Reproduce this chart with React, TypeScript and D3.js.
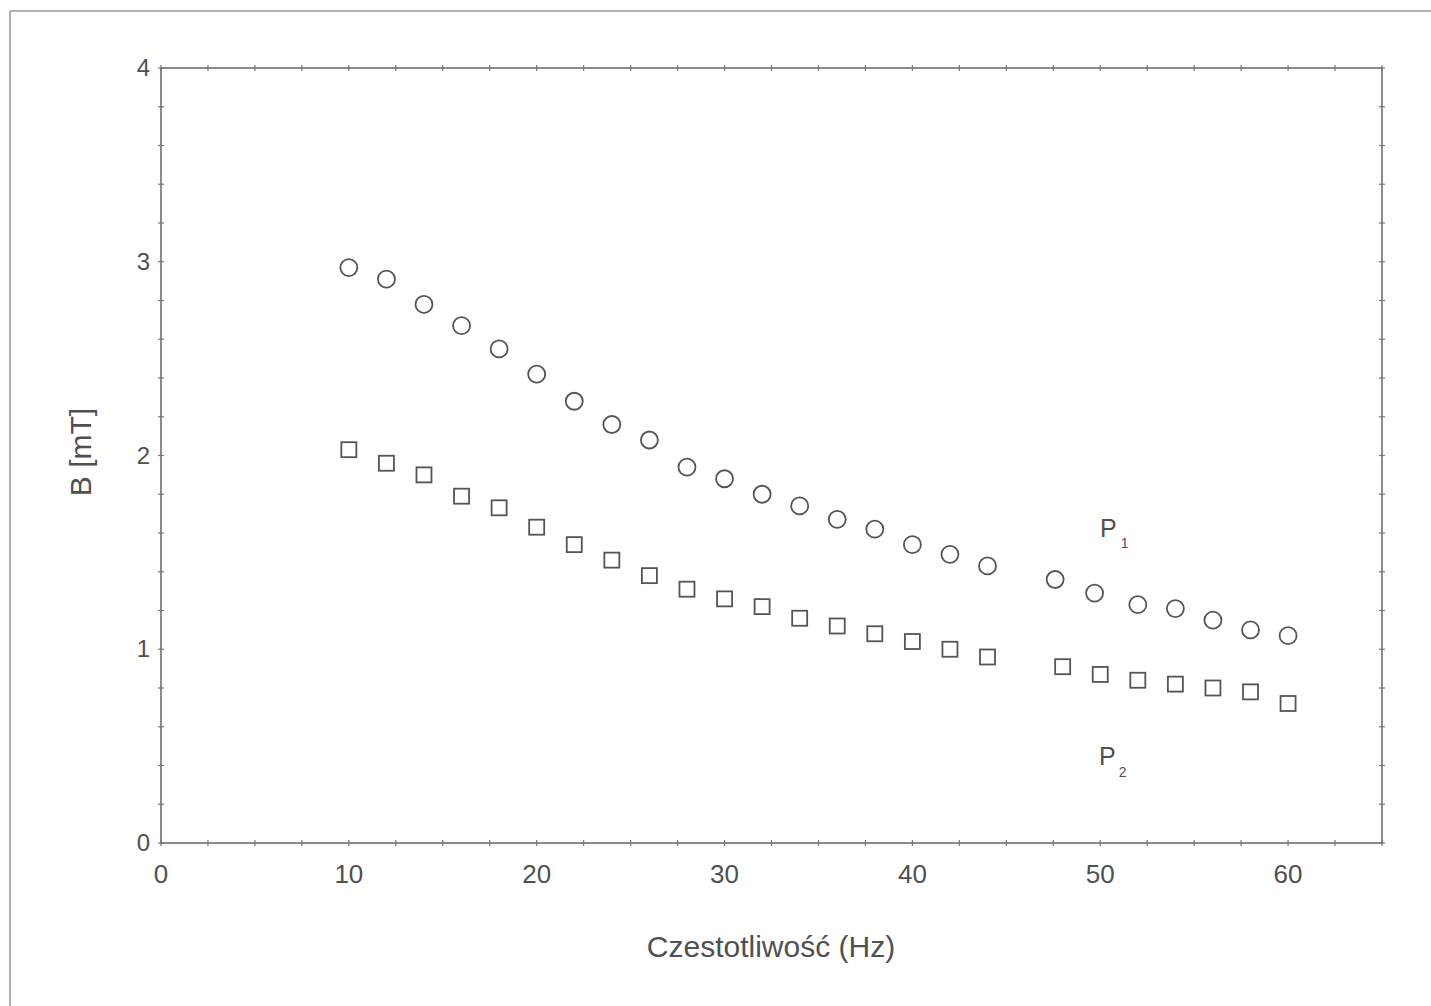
import React from "react";
import * as d3 from "d3";

// Frequency (Hz) and magnetic flux density B (mT) for the two measurement series
const p1Freq = [10, 12, 14, 16, 18, 20, 22, 24, 26, 28, 30, 32, 34, 36, 38, 40, 42, 44, 47.6, 49.7, 52, 54, 56, 58, 60];
const p1B = [2.97, 2.91, 2.78, 2.67, 2.55, 2.42, 2.28, 2.16, 2.08, 1.94, 1.88, 1.8, 1.74, 1.67, 1.62, 1.54, 1.49, 1.43, 1.36, 1.29, 1.23, 1.21, 1.15, 1.1, 1.07];
const p2Freq = [10, 12, 14, 16, 18, 20, 22, 24, 26, 28, 30, 32, 34, 36, 38, 40, 42, 44, 48, 50, 52, 54, 56, 58, 60];
const p2B = [2.03, 1.96, 1.9, 1.79, 1.73, 1.63, 1.54, 1.46, 1.38, 1.31, 1.26, 1.22, 1.16, 1.12, 1.08, 1.04, 1.0, 0.96, 0.91, 0.87, 0.84, 0.82, 0.8, 0.78, 0.72];

const xTickValues = [0, 10, 20, 30, 40, 50, 60];
const yTickValues = [0, 1, 2, 3, 4];
const xTitle = "Czestotliwość (Hz)";
const yTitle = "B [mT]";

const W = 1431;
const H = 1006;
const left = 161;
const right = 1382;
const top = 68;
const bottom = 843;

const FONT = "'Liberation Sans', Arial, sans-serif";
const INK = "#505050";

export default function App() {
  const x = d3.scaleLinear().domain([0, 65]).range([left, right]);
  const y = d3.scaleLinear().domain([0, 4]).range([bottom, top]);

  const xMinor = d3.range(0, 65.001, 2.5);
  const yMinor = d3.range(0, 4.001, 0.2);
  const t = 3;

  const p1 = p1Freq.map((f, i) => [f, p1B[i]] as [number, number]);
  const p2 = p2Freq.map((f, i) => [f, p2B[i]] as [number, number]);
  const sq = 15;

  return (
    <svg width={W} height={H} style={{ position: "absolute", left: 0, top: 0, background: "#fff" }}>
      {/* outer page frame */}
      <line x1={10} y1={11} x2={W} y2={11} stroke="#999" strokeWidth={1.5} />
      <line x1={10} y1={11} x2={10} y2={H} stroke="#999" strokeWidth={1.5} />

      {/* plot frame */}
      <rect x={left} y={top} width={right - left} height={bottom - top} fill="none" stroke="#666" strokeWidth={1.5} />

      {/* minor ticks on all four sides */}
      {xMinor.map((v) => (
        <g key={"xt" + v} stroke="#777" strokeWidth={1.2}>
          <line x1={x(v)} x2={x(v)} y1={bottom - t} y2={bottom + t} />
          <line x1={x(v)} x2={x(v)} y1={top - t} y2={top + t} />
        </g>
      ))}
      {yMinor.map((v) => (
        <g key={"yt" + v} stroke="#777" strokeWidth={1.2}>
          <line x1={left - t} x2={left + t} y1={y(v)} y2={y(v)} />
          <line x1={right - t} x2={right + t} y1={y(v)} y2={y(v)} />
        </g>
      ))}

      {/* tick labels */}
      {xTickValues.map((v) => (
        <text key={"xl" + v} x={x(v)} y={883} textAnchor="middle" fontFamily={FONT} fontSize={26} fill={INK}>
          {v}
        </text>
      ))}
      {yTickValues.map((v) => (
        <text key={"yl" + v} x={150} y={y(v) + 8} textAnchor="end" fontFamily={FONT} fontSize={24} fill={INK}>
          {v}
        </text>
      ))}

      {/* axis titles */}
      <text x={771} y={957} textAnchor="middle" fontFamily={FONT} fontSize={30} fill={INK}>
        {xTitle}
      </text>
      <text
        transform={`translate(91, 452) rotate(-90)`}
        textAnchor="middle"
        fontFamily={FONT}
        fontSize={30}
        fill={INK}
      >
        {yTitle}
      </text>

      {/* series P1: circles */}
      {p1.map(([f, b], i) => (
        <circle key={"c" + i} cx={x(f)} cy={y(b)} r={8.5} fill="none" stroke="#555" strokeWidth={1.8} />
      ))}
      {/* series P2: squares */}
      {p2.map(([f, b], i) => (
        <rect
          key={"s" + i}
          x={x(f) - sq / 2}
          y={y(b) - sq / 2}
          width={sq}
          height={sq}
          fill="none"
          stroke="#555"
          strokeWidth={1.8}
        />
      ))}

      {/* series labels */}
      <text x={1100} y={537} fontFamily={FONT} fontSize={25} fill={INK}>
        P
        <tspan fontSize={14} dx={4} dy={11}>1</tspan>
      </text>
      <text x={1099} y={765} fontFamily={FONT} fontSize={25} fill={INK}>
        P
        <tspan fontSize={14} dx={3} dy={12}>2</tspan>
      </text>
    </svg>
  );
}
